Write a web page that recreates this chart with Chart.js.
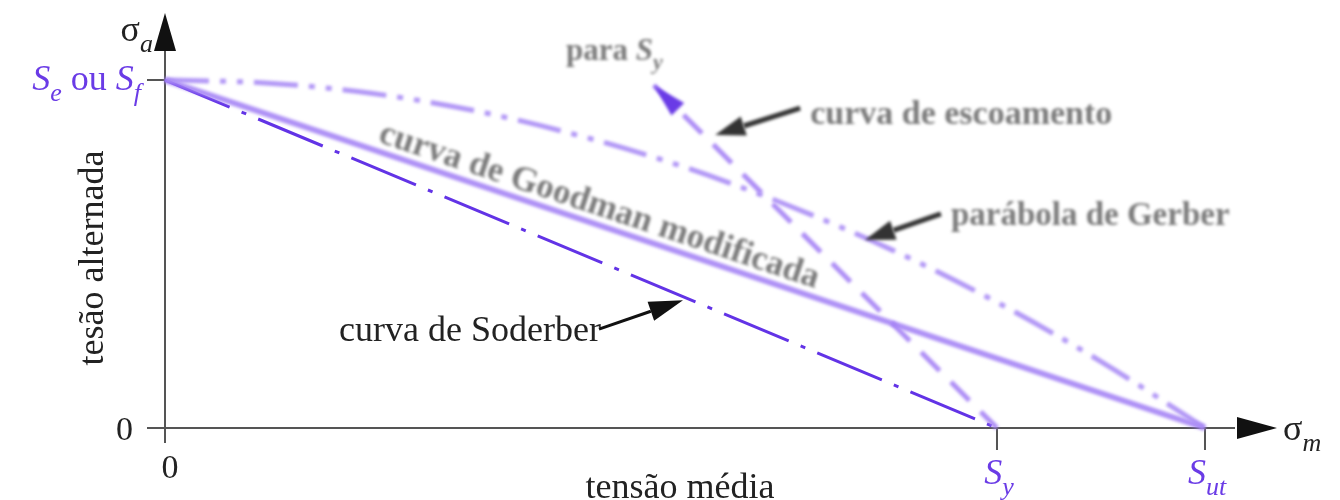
<!DOCTYPE html>
<html>
<head>
<meta charset="utf-8">
<script src="https://cdn.jsdelivr.net/npm/chart.js@4.4.1/dist/chart.umd.min.js"></script>
<style>
  body { margin: 0; background: #fff; }
  #wrap { width: 1340px; height: 500px; }
</style>
</head>
<body>
<div id="wrap"><canvas id="goodmanChart"></canvas></div>
<script>
  // valores em unidades de Sut = 100
  const Se = 33.5;
  const Sy = 80;
  const Sut = 100;

  const xTickValues = [0, Sy, Sut];
  const xTickLabels = [["0", ""], ["S", "y"], ["S", "ut"]];

  const soderbergX = [0, 80];
  const soderbergY = [33.5, 0];

  const goodmanX = [0, 100];
  const goodmanY = [33.5, 0];

  const gerberX = [0, 10, 20, 30, 40, 50, 60, 70, 80, 90, 100];
  const gerberY = [33.5, 33.2, 32.2, 30.5, 28.1, 25.1, 21.4, 17.1, 12.1, 6.4, 0];

  const yieldX = [47, 80];
  const yieldY = [33, 0];

  const toPoints = (xs, ys) => xs.map((x, i) => ({ x: x, y: ys[i] }));

  const serif = '"Liberation Serif", "DejaVu Serif", serif';
  const purple = "#6a3be6";

  function arrow(ctx, x1, y1, x2, y2, color, lw, headLen, headW) {
    const a = Math.atan2(y2 - y1, x2 - x1);
    const bx = x2 - headLen * Math.cos(a);
    const by = y2 - headLen * Math.sin(a);
    ctx.strokeStyle = color;
    ctx.fillStyle = color;
    ctx.lineWidth = lw;
    ctx.beginPath();
    ctx.moveTo(x1, y1);
    ctx.lineTo(bx, by);
    ctx.stroke();
    ctx.beginPath();
    ctx.moveTo(x2, y2);
    ctx.lineTo(bx + headW / 2 * Math.sin(a), by - headW / 2 * Math.cos(a));
    ctx.lineTo(bx - headW / 2 * Math.sin(a), by + headW / 2 * Math.cos(a));
    ctx.closePath();
    ctx.fill();
  }

  function subText(ctx, main, sub, x, y, size, align, italic, bold) {
    // texto com subscrito
    const w = bold ? "bold " : "";
    const f1 = w + (italic ? "italic " : "") + size + "px " + serif;
    const f2 = w + "italic " + Math.round(size * 0.72) + "px " + serif;
    ctx.font = f1;
    const w1 = ctx.measureText(main).width;
    ctx.font = f2;
    const w2 = ctx.measureText(sub).width;
    let start = x;
    if (align === "right") start = x - w1 - w2;
    if (align === "center") start = x - (w1 + w2) / 2;
    ctx.textAlign = "left";
    ctx.font = f1;
    ctx.fillText(main, start, y);
    ctx.font = f2;
    ctx.fillText(sub, start + w1, y + size * 0.3);
    return start;
  }

  const blurPlugin = {
    id: "blurLines",
    beforeDatasetDraw(chart, args) {
      const b = chart.data.datasets[args.index].blur;
      if (b) chart.ctx.filter = "blur(" + b + "px)";
    },
    afterDatasetDraw(chart) {
      chart.ctx.filter = "none";
    },
  };

  const axesPlugin = {
    id: "drawAxes",
    beforeDatasetsDraw(chart) {
      const ctx = chart.ctx;
      const xs = chart.scales.x;
      const ys = chart.scales.y;
      const x0 = xs.getPixelForValue(0);
      const y0 = ys.getPixelForValue(0);
      const yTop = ys.top;
      const xRight = xs.right;
      ctx.save();
      ctx.strokeStyle = "#555";
      ctx.lineWidth = 2;
      ctx.beginPath();
      ctx.moveTo(x0, y0 + 15);
      ctx.lineTo(x0, yTop + 30);
      ctx.moveTo(x0 - 18, y0);
      ctx.lineTo(xRight - 30, y0);
      // marcas
      ctx.moveTo(x0 - 18, ys.getPixelForValue(Se));
      ctx.lineTo(x0, ys.getPixelForValue(Se));
      xTickValues.slice(1).forEach((v) => {
        ctx.moveTo(xs.getPixelForValue(v), y0);
        ctx.lineTo(xs.getPixelForValue(v), y0 + 22);
      });
      ctx.stroke();
      // pontas das setas
      ctx.fillStyle = "#111";
      ctx.beginPath();
      ctx.moveTo(x0, yTop - 2);
      ctx.lineTo(x0 - 11, yTop + 36);
      ctx.lineTo(x0 + 11, yTop + 36);
      ctx.closePath();
      ctx.fill();
      ctx.beginPath();
      ctx.moveTo(xRight + 12, y0);
      ctx.lineTo(xRight - 28, y0 - 11);
      ctx.lineTo(xRight - 28, y0 + 11);
      ctx.closePath();
      ctx.fill();
      ctx.restore();
    },
    afterDraw(chart) {
      const ctx = chart.ctx;
      const xs = chart.scales.x;
      const ys = chart.scales.y;
      const X = (v) => xs.getPixelForValue(v);
      const Y = (v) => ys.getPixelForValue(v);
      const x0 = X(0);
      const y0 = Y(0);
      ctx.save();
      ctx.textBaseline = "alphabetic";

      // rotulos dos eixos
      ctx.fillStyle = "#222";
      subText(ctx, "σ", "a", x0 - 12, ys.top + 26, 36, "right", false);
      subText(ctx, "σ", "m", xs.right + 18, y0 + 12, 36, "left", false);

      ctx.font = "34px " + serif;
      ctx.textAlign = "right";
      ctx.fillText("0", x0 - 32, y0 + 12);
      ctx.textAlign = "center";
      ctx.fillText("0", x0 + 5, y0 + 50);
      ctx.font = "36px " + serif;
      ctx.fillText("tensão média", 680, 498);
      ctx.save();
      ctx.translate(103, 258);
      ctx.rotate(-Math.PI / 2);
      ctx.fillText("tesão alternada", 0, 0);
      ctx.restore();

      // rotulos roxos
      ctx.fillStyle = purple;
      const fs = 36;
      let right = x0 - 24;
      ctx.font = "italic " + fs + "px " + serif;
      const wS = ctx.measureText("S").width;
      ctx.font = "italic " + Math.round(fs * 0.72) + "px " + serif;
      const wf = ctx.measureText("f").width;
      right = right - wS - wf;
      subText(ctx, "S", "f", right, Y(Se) + 10, fs, "left", true);
      ctx.font = fs + "px " + serif;
      const wOu = ctx.measureText(" ou ").width;
      ctx.textAlign = "left";
      ctx.fillText(" ou ", right - wOu, Y(Se) + 10);
      subText(ctx, "S", "e", right - wOu, Y(Se) + 10, fs, "right", true);
      xTickValues.forEach((v, i) => {
        if (xTickLabels[i][1] === "") return;
        subText(ctx, xTickLabels[i][0], xTickLabels[i][1], X(v) + 2, y0 + 56, fs, "center", true);
      });

      // curva de Soderberg
      const sx = X(50), sy = Y(12.5);
      ctx.fillStyle = "#222";
      ctx.font = "36px " + serif;
      ctx.textAlign = "right";
      ctx.fillText("curva de Soderber", sx - 84, sy + 43);
      arrow(ctx, sx - 86, sy + 31, sx - 2, sy + 2, "#111", 3, 34, 20);

      // anotacoes borradas
      ctx.filter = "blur(1.7px)";
      ctx.fillStyle = "#7a7a7a";
      ctx.textAlign = "left";
      ctx.font = "bold 34px " + serif;
      ctx.fillText("curva de escoamento", X(52.9) + 95, Y(28.2) - 11);
      arrow(ctx, X(52.9) + 85, Y(28.2) - 27, X(52.9), Y(28.2), "#333", 5, 30, 20);
      ctx.fillStyle = "#7a7a7a";
      ctx.font = "bold 33px " + serif;
      ctx.fillText("parábola de Gerber", X(67.3) + 86, Y(18.1) - 15);
      arrow(ctx, X(67.3) + 76, Y(18.1) - 26, X(67.3), Y(18.1), "#333", 5, 30, 20);
      ctx.fillStyle = "#7a7a7a";
      ctx.font = "bold 31px " + serif;
      const wPara = ctx.measureText("para ").width;
      ctx.fillText("para ", 566, 60);
      subText(ctx, "S", "y", 566 + wPara, 60, 31, "left", true, true);

      // texto ao longo da reta de Goodman
      const ang = Math.atan2(Y(0) - Y(Se), X(Sut) - X(0));
      const gx = X(41.2), gy = Y(Se * (1 - 41.2 / Sut));
      ctx.save();
      ctx.translate(gx, gy);
      ctx.rotate(ang);
      ctx.textAlign = "center";
      ctx.font = "bold 35px " + serif;
      ctx.fillText("curva de Goodman modificada", 0, -9);
      ctx.restore();

      // ponta de seta roxa da reta de escoamento
      const tx = X(yieldX[0]), ty = Y(yieldY[0]);
      const bx = X(yieldX[1]), by = Y(yieldY[1]);
      const a = Math.atan2(ty - by, tx - bx);
      const hx = tx - 34 * Math.cos(a), hy = ty - 34 * Math.sin(a);
      ctx.fillStyle = "#6a3be6";
      ctx.beginPath();
      ctx.moveTo(tx, ty);
      ctx.lineTo(hx + 9 * Math.sin(a), hy - 9 * Math.cos(a));
      ctx.lineTo(hx - 9 * Math.sin(a), hy + 9 * Math.cos(a));
      ctx.closePath();
      ctx.fill();
      ctx.filter = "none";
      ctx.restore();
    },
  };

  const ctx = document.getElementById("goodmanChart");

  const chart = new Chart(ctx, {
    type: "line",
    data: {
      datasets: [
        {
          label: "parábola de Gerber",
          data: toPoints(gerberX, gerberY),
          borderColor: "rgba(170, 140, 245, 0.9)",
          borderWidth: 5,
          borderDash: [44, 11, 6, 11, 6, 11],
          tension: 0.4,
          cubicInterpolationMode: "monotone",
          blur: 1.5,
        },
        {
          label: "curva de escoamento",
          data: toPoints(yieldX, yieldY),
          borderColor: "rgba(165, 130, 245, 0.9)",
          borderWidth: 5,
          borderDash: [26, 16],
          blur: 1.5,
        },
        {
          label: "curva de Goodman modificada",
          data: toPoints(goodmanX, goodmanY),
          borderColor: "rgba(160, 125, 245, 0.85)",
          borderWidth: 6,
          blur: 1.5,
        },
        {
          label: "curva de Soderberg",
          data: toPoints(soderbergX, soderbergY),
          borderColor: "#6233e6",
          borderWidth: 3,
          borderDash: [70, 13, 5, 13],
        },
      ],
    },
    options: {
      responsive: true,
      maintainAspectRatio: false,
      animation: false,
      clip: false,
      layout: {
        padding: { left: 165, right: 75, top: 15, bottom: 72 },
      },
      elements: {
        point: {
          radius: 0,
        },
      },
      scales: {
        x: {
          type: "linear",
          display: false,
          min: 0,
          max: 105.77,
        },
        y: {
          display: false,
          min: 0,
          max: 39.76,
        },
      },
      plugins: {
        legend: {
          display: false,
        },
        tooltip: {
          enabled: false,
        },
      },
    },
    plugins: [blurPlugin, axesPlugin],
  });
</script>
</body>
</html>
